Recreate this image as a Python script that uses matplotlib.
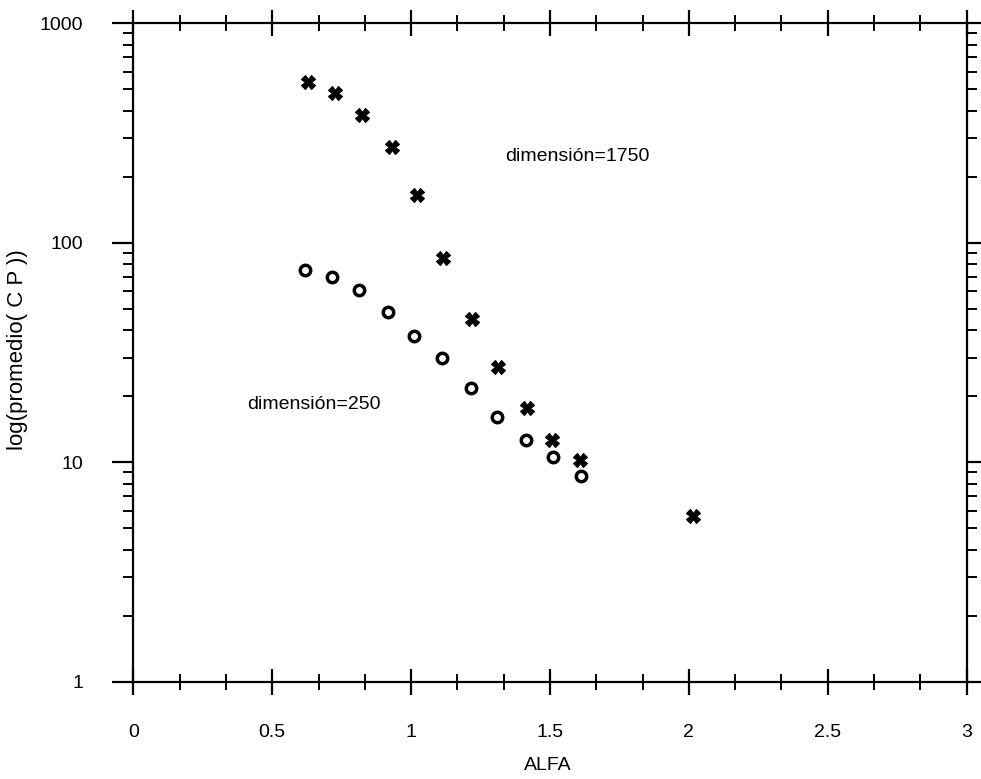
import matplotlib.pyplot as plt
from matplotlib.ticker import FixedLocator, NullFormatter, FixedFormatter, MultipleLocator

plt.rcParams['font.family'] = ['Liberation Sans', 'DejaVu Sans']

# dimension = 1750 (crossed markers)
alfa_1750 = [0.63, 0.726, 0.822, 0.93, 1.02, 1.114, 1.218, 1.312, 1.416, 1.508, 1.608, 2.015]
cp_1750 = [540, 480, 382, 272, 166, 84.9, 44.8, 27.2, 17.6, 12.6, 10.2, 5.7]

# dimension = 250 (circles)
alfa_250 = [0.618, 0.714, 0.812, 0.918, 1.011, 1.11, 1.216, 1.308, 1.414, 1.512, 1.611]
cp_250 = [75.1, 70.0, 61.1, 48.4, 37.5, 30.0, 21.9, 16.0, 12.6, 10.6, 8.68]

y_ticks = [1, 10, 100, 1000]
y_labels = ['1', '10', '100', '1000']
x_ticks = [0, 0.5, 1, 1.5, 2, 2.5, 3]
x_labels = ['0', '0.5', '1', '1.5', '2', '2.5', '3']

fig = plt.figure(figsize=(9.81, 7.79), dpi=100)
ax = fig.add_axes([0.1359, 0.1249, 0.8495, 0.8451])

ax.plot(alfa_1750, cp_1750, linestyle='none', marker='X', markersize=10,
        color='black', markeredgewidth=0.8)
ax.plot(alfa_250, cp_250, linestyle='none', marker='o', markersize=7.5,
        markerfacecolor='white', markeredgecolor='black', markeredgewidth=2.5)

ax.set_yscale('log')
ax.set_xlim(0, 3)
ax.set_ylim(1, 1000)

ax.xaxis.set_major_locator(FixedLocator(x_ticks))
ax.xaxis.set_major_formatter(FixedFormatter(x_labels))
ax.xaxis.set_minor_locator(MultipleLocator(1 / 6))
ax.yaxis.set_major_locator(FixedLocator(y_ticks))
ax.yaxis.set_major_formatter(FixedFormatter(y_labels))
ax.yaxis.set_minor_locator(FixedLocator([m * 10 ** e for e in range(3) for m in range(2, 10)]))
ax.yaxis.set_minor_formatter(NullFormatter())

for s in ax.spines.values():
    s.set_linewidth(1.6)

ax.tick_params(axis='x', which='major', direction='inout', length=19, width=1.6,
               top=True, bottom=True, labelsize=14, pad=21)
ax.tick_params(axis='x', which='minor', direction='inout', length=11, width=1.4,
               top=True, bottom=True)
ax.tick_params(axis='y', which='major', direction='out', length=15, width=1.6,
               left=True, right=True, labelsize=14, pad=21)
ax.tick_params(axis='y', which='minor', direction='out', length=7, width=1.4,
               left=True, right=True)

ax.text(1.338, 247, 'dimensión=1750', fontsize=14, ha='left', va='center')
ax.text(0.409, 18.4, 'dimensión=250', fontsize=14, ha='left', va='center')

fig.text(548 / 981, 1 - 765 / 779, 'ALFA', fontsize=14, ha='center', va='center')
fig.text(18 / 981, 1 - 350 / 779, 'log(promedio( C P ))', fontsize=16,
         ha='center', va='center', rotation=90)

fig.savefig('out.png', dpi=100, facecolor='white')
